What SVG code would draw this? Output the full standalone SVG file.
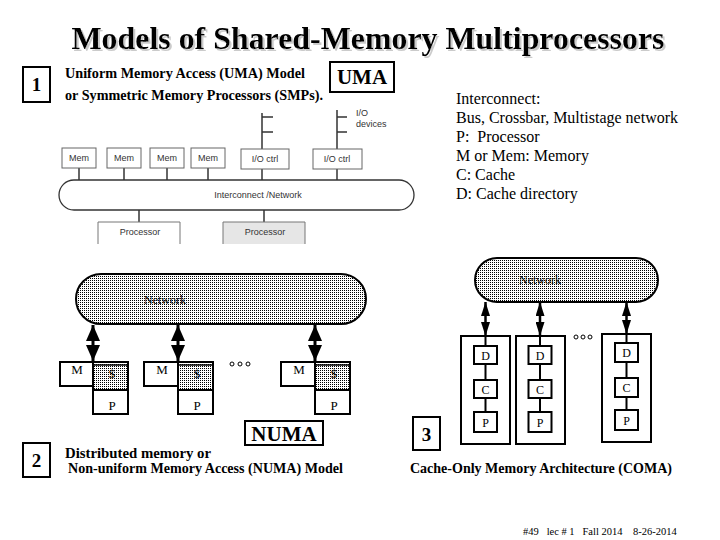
<svg xmlns="http://www.w3.org/2000/svg" width="720" height="540" viewBox="0 0 720 540">
<defs>
<pattern id="dots" width="2" height="2" patternUnits="userSpaceOnUse">
<rect width="2" height="2" fill="#ffffff"/>
<rect width="1" height="1" fill="#000000"/>
</pattern>
<filter id="shadow" x="-5%" y="-20%" width="110%" height="150%">
<feOffset in="SourceAlpha" dx="2" dy="2" result="off"/>
<feColorMatrix in="off" type="matrix" values="0 0 0 0 0.6  0 0 0 0 0.6  0 0 0 0 0.6  0 0 0 1 0" result="grey"/>
<feMerge><feMergeNode in="grey"/><feMergeNode in="SourceGraphic"/></feMerge>
</filter>
<marker id="bigHead" viewBox="0 0 16 14" refX="16" refY="7" markerWidth="16" markerHeight="14" markerUnits="userSpaceOnUse" orient="auto-start-reverse">
<path d="M0,0 L16,7 L0,14 Z" fill="#000"/>
</marker>
<marker id="smallHead" viewBox="0 0 14 9" refX="14" refY="4.5" markerWidth="14" markerHeight="9" markerUnits="userSpaceOnUse" orient="auto-start-reverse">
<path d="M0,0 L14,4.5 L0,9 Z" fill="#000"/>
</marker>
</defs>
<style>
.serifB{font-family:"Liberation Serif","Times New Roman",serif;font-weight:bold;fill:#000}
.serif{font-family:"Liberation Serif","Times New Roman",serif;fill:#000}
.sans{font-family:"Liberation Sans",Arial,sans-serif;font-size:9px;fill:#333}
.ubox{fill:#fff;stroke:#666;stroke-width:1}
.uline{stroke:#333;stroke-width:1.5;fill:none}
.frame{fill:#fff;stroke:#000;stroke-width:2}
.net{fill:url(#dots);stroke:#000;stroke-width:2}
.bk{stroke:#000;stroke-width:2;fill:none}
</style>
<rect width="720" height="540" fill="#fff"/>

<g id="title">
<text x="368" y="49" text-anchor="middle" class="serifB" font-size="31" textLength="593" lengthAdjust="spacingAndGlyphs" filter="url(#shadow)">Models of Shared-Memory Multiprocessors</text>
</g>

<g id="label-1">
<rect x="23" y="67" width="27" height="35" class="frame"/>
<text x="36.5" y="91" text-anchor="middle" class="serifB" font-size="19">1</text>
</g>
<g id="uma-caption">
<text x="65" y="78" class="serifB" font-size="14" textLength="240" lengthAdjust="spacingAndGlyphs">Uniform Memory Access (UMA) Model</text>
<text x="65" y="100" class="serifB" font-size="14" textLength="258" lengthAdjust="spacingAndGlyphs">or Symmetric Memory Processors (SMPs).</text>
</g>
<g id="uma-tag">
<rect x="330" y="62" width="64" height="30" class="frame"/>
<text x="362" y="84" text-anchor="middle" class="serifB" font-size="21">UMA</text>
</g>

<g id="legend">
<text class="serif" font-size="16" xml:space="preserve">
<tspan x="456" y="104">Interconnect:</tspan>
<tspan x="456" y="123">Bus, Crossbar, Multistage network</tspan>
<tspan x="456" y="142">P:  Processor</tspan>
<tspan x="456" y="161">M or Mem: Memory</tspan>
<tspan x="456" y="180">C: Cache</tspan>
<tspan x="456" y="199">D: Cache directory</tspan>
</text>
</g>

<!-- UMA diagram -->
<g id="uma-connectors">
<line x1="79" y1="168" x2="79" y2="180" class="uline"/>
<line x1="124" y1="168" x2="124" y2="180" class="uline"/>
<line x1="167" y1="168" x2="167" y2="180" class="uline"/>
<line x1="208" y1="168" x2="208" y2="180" class="uline"/>
<line x1="262" y1="169" x2="262" y2="180" class="uline"/>
<line x1="337" y1="169" x2="337" y2="180" class="uline"/>
<path d="M262,113 V149 M262,117 H273 M262,132 H273" class="uline"/>
<path d="M337,110 V149 M337,117 H347 M337,132 H347" class="uline"/>
<line x1="139" y1="210" x2="139" y2="222" class="uline"/>
<line x1="264" y1="210" x2="264" y2="222" class="uline"/>
</g>
<g id="uma-bus">
<path d="M74,180 H399 A15,15 0 0 1 399,210 H74 A15,15 0 0 1 74,180 Z" fill="#fff" stroke="#333" stroke-width="1.3"/>
<text x="258" y="198" text-anchor="middle" class="sans">Interconnect /Network</text>
</g>
<g id="uma-mem1"><rect x="62" y="148" width="34" height="20" class="ubox"/><text x="79" y="161" text-anchor="middle" class="sans">Mem</text></g>
<g id="uma-mem2"><rect x="107" y="148" width="34" height="20" class="ubox"/><text x="124" y="161" text-anchor="middle" class="sans">Mem</text></g>
<g id="uma-mem3"><rect x="150" y="148" width="34" height="20" class="ubox"/><text x="167" y="161" text-anchor="middle" class="sans">Mem</text></g>
<g id="uma-mem4"><rect x="191" y="148" width="34" height="20" class="ubox"/><text x="208" y="161" text-anchor="middle" class="sans">Mem</text></g>
<g id="uma-io1"><rect x="241" y="149" width="48" height="20" class="ubox"/><text x="265" y="162" text-anchor="middle" class="sans">I/O ctrl</text></g>
<g id="uma-io2"><rect x="313" y="149" width="49" height="20" class="ubox"/><text x="337" y="162" text-anchor="middle" class="sans">I/O ctrl</text></g>
<g id="uma-iodev"><text class="sans"><tspan x="356" y="116">I/O</tspan><tspan x="356" y="127">devices</tspan></text></g>
<g id="uma-proc1"><path d="M98,244 V222 H180 V244" fill="#fff" stroke="#777" stroke-width="1"/><text x="140" y="235" text-anchor="middle" class="sans">Processor</text></g>
<g id="uma-proc2"><path d="M223,244 V222 H305 V244" fill="#e6e6e6" stroke="#777" stroke-width="1"/><text x="265" y="235" text-anchor="middle" class="sans">Processor</text></g>

<!-- NUMA diagram -->
<g id="numa-network">
<rect x="76" y="274" width="290" height="50" rx="25" ry="25" class="net"/>
<text x="165" y="304" text-anchor="middle" class="serif" font-size="12">Network</text>
</g>
<g id="numa-connectors">
<line x1="93" y1="325" x2="93" y2="361" stroke="#000" stroke-width="3" marker-start="url(#bigHead)" marker-end="url(#bigHead)"/>
<line x1="178" y1="325" x2="178" y2="361" stroke="#000" stroke-width="3" marker-start="url(#bigHead)" marker-end="url(#bigHead)"/>
<line x1="315" y1="325" x2="315" y2="361" stroke="#000" stroke-width="3" marker-start="url(#bigHead)" marker-end="url(#bigHead)"/>
</g>
<g id="numa-node1">
<rect x="60" y="362" width="33" height="24" class="frame"/>
<text x="77" y="374" text-anchor="middle" class="serif" font-size="13">M</text>
<rect x="93" y="362" width="35" height="28" class="net"/>
<line x1="93" y1="365" x2="128" y2="365" stroke="#000" stroke-width="1.5"/>
<text x="112" y="378" text-anchor="middle" class="serif" font-size="13">$</text>
<rect x="93" y="390" width="35" height="24" class="frame"/>
<text x="112" y="410" text-anchor="middle" class="serif" font-size="13">P</text>
</g>
<g id="numa-node2">
<rect x="144" y="362" width="34" height="24" class="frame"/>
<text x="162" y="374" text-anchor="middle" class="serif" font-size="13">M</text>
<rect x="178" y="362" width="35" height="28" class="net"/>
<line x1="178" y1="365" x2="213" y2="365" stroke="#000" stroke-width="1.5"/>
<text x="197" y="378" text-anchor="middle" class="serif" font-size="13">$</text>
<rect x="178" y="390" width="35" height="24" class="frame"/>
<text x="197" y="410" text-anchor="middle" class="serif" font-size="13">P</text>
</g>
<g id="numa-dots">
<circle cx="232" cy="364" r="2" fill="none" stroke="#000" stroke-width="1"/>
<circle cx="240" cy="364" r="2" fill="none" stroke="#000" stroke-width="1"/>
<circle cx="248" cy="364" r="2" fill="none" stroke="#000" stroke-width="1"/>
</g>
<g id="numa-node3">
<rect x="281" y="362" width="34" height="24" class="frame"/>
<text x="299" y="374" text-anchor="middle" class="serif" font-size="13">M</text>
<rect x="315" y="362" width="35" height="28" class="net"/>
<line x1="315" y1="365" x2="350" y2="365" stroke="#000" stroke-width="1.5"/>
<text x="334" y="378" text-anchor="middle" class="serif" font-size="13">$</text>
<rect x="315" y="390" width="35" height="24" class="frame"/>
<text x="334" y="410" text-anchor="middle" class="serif" font-size="13">P</text>
</g>
<g id="numa-tag">
<rect x="245" y="421" width="78" height="24" class="frame"/>
<text x="284" y="441" text-anchor="middle" class="serifB" font-size="21">NUMA</text>
</g>
<g id="label-2">
<rect x="23" y="443" width="27" height="34" class="frame"/>
<text x="36.5" y="467" text-anchor="middle" class="serifB" font-size="19">2</text>
</g>
<g id="numa-caption">
<text x="65" y="458" class="serifB" font-size="14" textLength="146" lengthAdjust="spacingAndGlyphs">Distributed memory or</text>
<text x="68" y="473" class="serifB" font-size="14" textLength="275" lengthAdjust="spacingAndGlyphs">Non-uniform Memory Access (NUMA) Model</text>
</g>

<!-- COMA diagram -->
<g id="coma-network">
<rect x="475" y="258" width="183" height="44" rx="22" ry="22" class="net"/>
<text x="540" y="284" text-anchor="middle" class="serif" font-size="12">Network</text>
</g>
<g id="coma-connectors">
<line x1="485.5" y1="302" x2="485.5" y2="336" stroke="#000" stroke-width="2.5" marker-start="url(#smallHead)" marker-end="url(#smallHead)"/>
<line x1="540" y1="302" x2="540" y2="336" stroke="#000" stroke-width="2.5" marker-start="url(#smallHead)" marker-end="url(#smallHead)"/>
<line x1="626.5" y1="302" x2="626.5" y2="334" stroke="#000" stroke-width="2.5" marker-start="url(#smallHead)" marker-end="url(#smallHead)"/>
</g>
<g id="coma-node1">
<rect x="461" y="336" width="49" height="108" class="frame"/>
<path d="M485.5,336 V346 M485.5,364 V380 M485.5,398 V412" class="bk"/>
<rect x="474" y="346" width="23" height="18" class="frame"/><text x="485.5" y="360" text-anchor="middle" class="serif" font-size="12">D</text>
<rect x="474" y="380" width="23" height="18" class="frame"/><text x="485.5" y="394" text-anchor="middle" class="serif" font-size="12">C</text>
<rect x="474" y="412" width="23" height="20" class="frame"/><text x="485.5" y="427" text-anchor="middle" class="serif" font-size="12">P</text>
</g>
<g id="coma-node2">
<rect x="516" y="336" width="49" height="108" class="frame"/>
<path d="M540,336 V346 M540,364 V380 M540,398 V412" class="bk"/>
<rect x="528.5" y="346" width="23" height="18" class="frame"/><text x="540" y="360" text-anchor="middle" class="serif" font-size="12">D</text>
<rect x="528.5" y="380" width="23" height="18" class="frame"/><text x="540" y="394" text-anchor="middle" class="serif" font-size="12">C</text>
<rect x="528.5" y="412" width="23" height="20" class="frame"/><text x="540" y="427" text-anchor="middle" class="serif" font-size="12">P</text>
</g>
<g id="coma-dots">
<circle cx="576" cy="337" r="2" fill="none" stroke="#000" stroke-width="1"/>
<circle cx="583" cy="337" r="2" fill="none" stroke="#000" stroke-width="1"/>
<circle cx="590" cy="337" r="2" fill="none" stroke="#000" stroke-width="1"/>
</g>
<g id="coma-node3">
<rect x="602" y="334" width="49" height="108" class="frame"/>
<path d="M626.5,334 V343 M626.5,362 V378 M626.5,397 V410" class="bk"/>
<rect x="615" y="343" width="23" height="19" class="frame"/><text x="626.5" y="357" text-anchor="middle" class="serif" font-size="12">D</text>
<rect x="615" y="378" width="23" height="19" class="frame"/><text x="626.5" y="392" text-anchor="middle" class="serif" font-size="12">C</text>
<rect x="615" y="410" width="23" height="20" class="frame"/><text x="626.5" y="425" text-anchor="middle" class="serif" font-size="12">P</text>
</g>
<g id="label-3">
<rect x="413" y="417" width="27" height="33" class="frame"/>
<text x="426.5" y="441" text-anchor="middle" class="serifB" font-size="19">3</text>
</g>
<g id="coma-caption">
<text x="410" y="473" class="serifB" font-size="14" textLength="262" lengthAdjust="spacingAndGlyphs">Cache-Only Memory Architecture (COMA)</text>
</g>
<g id="footer">
<text x="523" y="535" class="serif" font-size="10.5" xml:space="preserve">#49   lec # 1   Fall 2014    8-26-2014</text>
</g>
</svg>
